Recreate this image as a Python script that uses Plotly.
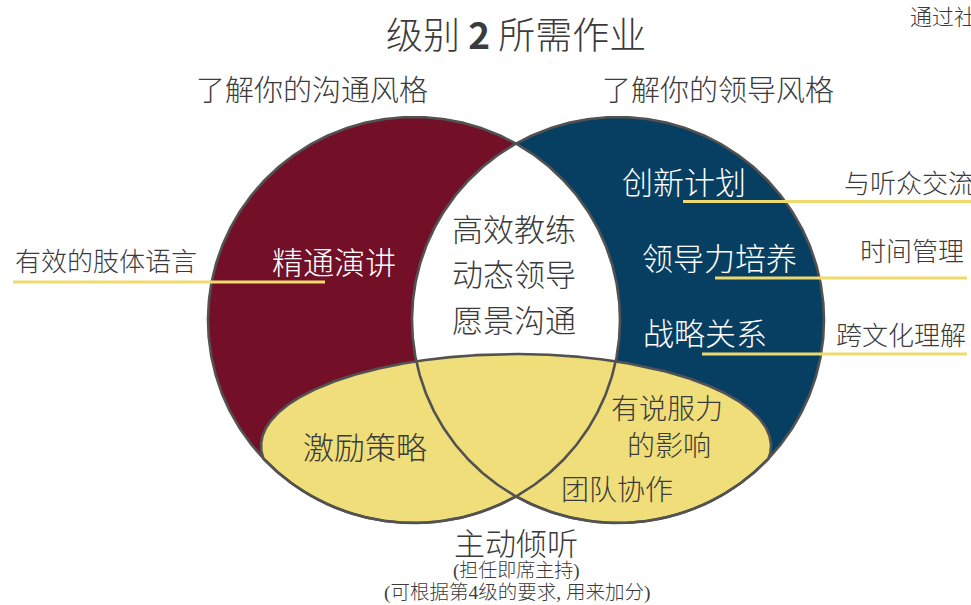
import numpy as np
import plotly.graph_objects as go

# ---------------- data (text content) ----------------
title_parts = ["级别", "2", "所需作业"]
corner_text = "通过社交媒体"
circle_titles = ["了解你的沟通风格", "了解你的领导风格"]
left_only = ["精通演讲"]
right_only = ["创新计划", "领导力培养", "战略关系"]
center_items = ["高效教练", "动态领导", "愿景沟通"]
bottom_left = ["激励策略"]
bottom_right = ["有说服力", "的影响", "团队协作"]
outside_left = ["有效的肢体语言"]
outside_right = ["与听众交流", "时间管理", "跨文化理解"]
bottom_title = "主动倾听"
bottom_notes = ["(担任即席主持)", "(可根据第4级的要求, 用来加分)"]

# ---------------- geometry / style ----------------
W, H = 971, 605
CL, CR, RX, RY = (414.0, 320.0), (618.0, 320.0), 206.0, 203.0
CE, ERX, ERY = (516.0, 446.0), 255.0, 92.0

MAROON = "#731027"
NAVY = "#073F62"
YELLOW = "#EFDE79"
LINE_Y = "#EFDA6E"
EDGE = "#525252"
TXT = "#3b3b3b"
FONT = "Noto Sans CJK SC"
DY = -2  # vertical text nudge


def ell(c, rx, ry, t):
    return c[0] + rx * np.cos(t), c[1] + ry * np.sin(t)


def ray_exit(p, d, c, rx, ry):
    dx, dy = d
    px, py = p[0] - c[0], p[1] - c[1]
    a = (dx / rx) ** 2 + (dy / ry) ** 2
    b = 2 * (px * dx / rx ** 2 + py * dy / ry ** 2)
    cc = (px / rx) ** 2 + (py / ry) ** 2 - 1
    return (-b + np.sqrt(b * b - 4 * a * cc)) / (2 * a)


t = np.linspace(0, 2 * np.pi, 721)
lx, ly = ell(CL, RX, RY, t)
rx_, ry_ = ell(CR, RX, RY, t)

# lens (intersection of the two circles)
t0 = np.arccos((CR[0] - CL[0]) / 2 / RX)
ta = np.linspace(-t0, t0, 200)
tb = np.linspace(np.pi - t0, np.pi + t0, 200)
a1x, a1y = ell(CL, RX, RY, ta)
a2x, a2y = ell(CR, RX, RY, tb)
lens_x = np.concatenate([a1x, a2x])
lens_y = np.concatenate([a1y, a2y])

# yellow region = ellipse ∩ (left ∪ right)
phi = np.linspace(0, 2 * np.pi, 2881)
d = (np.cos(phi), np.sin(phi))
sE = ray_exit(CE, d, CE, ERX, ERY)
sL = ray_exit(CE, d, CL, RX, RY)
sR = ray_exit(CE, d, CR, RX, RY)
s = np.minimum(sE, np.maximum(sL, sR))
yx = CE[0] + s * np.cos(phi)
yy = CE[1] + s * np.sin(phi)

fig = go.Figure()


def fill(x, y, color):
    fig.add_trace(go.Scatter(x=x, y=y, mode="lines", fill="toself", fillcolor=color,
                             line=dict(width=0, color=color), hoverinfo="skip"))


def outline(x, y):
    fig.add_trace(go.Scatter(x=x, y=y, mode="lines", line=dict(width=2.6, color=EDGE),
                             hoverinfo="skip"))


fill(lx, ly, MAROON)
fill(rx_, ry_, NAVY)
fill(lens_x, lens_y, "#ffffff")
fill(yx, yy, YELLOW)
outline(yx, yy)
outline(lx, ly)
outline(rx_, ry_)

# yellow pointer lines
pointer_lines = [((13, 282), (325, 282)), ((683, 201.5), (975, 201.5)),
                 ((715, 278), (967, 278)), ((702, 354), (967, 354))]
for (x0, y0), (x1, y1) in pointer_lines:
    fig.add_shape(type="line", x0=x0, y0=y0, x1=x1, y1=y1, xref="x", yref="y",
                  line=dict(color=LINE_Y, width=3))


def label(text, x, y, size, color=TXT, anchor="center", family=FONT):
    fig.add_annotation(text=text, x=x, y=y + DY, xref="x", yref="y", showarrow=False,
                       xanchor=anchor, yanchor="middle",
                       font=dict(family=family, size=size, color=color, weight=300))


label(f"{title_parts[0]} <b>{title_parts[1]}</b> {title_parts[2]}", 515.5, 35, 37)
label(corner_text, 908, 17, 22, anchor="left")
label(circle_titles[0], 312, 90, 29)
label(circle_titles[1], 718, 90, 29)

label(left_only[0], 333.5, 262, 31, color="#ffffff")
for txt, (x, y) in zip(right_only, [(684, 182), (719, 258.5), (704.5, 333.5)]):
    label(txt, x, y, 31, color="#ffffff")
for txt, (x, y) in zip(center_items, [(514, 229), (514, 274), (514, 320)]):
    label(txt, x, y, 31)
label(bottom_left[0], 365, 447, 31)
for txt, (x, y) in zip(bottom_right, [(667, 409), (669, 446), (617, 490)]):
    label(txt, x, y, 28)

label(outside_left[0], 106, 261.5, 26)
label(outside_right[0], 842, 183.5, 26, anchor="left")
label(outside_right[1], 911.5, 251, 26)
label(outside_right[2], 900.5, 335, 26)

label(bottom_title, 516, 543, 31)
label(bottom_notes[0], 516, 573, 19, family="Liberation Serif, " + FONT)
label(bottom_notes[1], 517, 595, 19.5, family="Liberation Serif, " + FONT)

fig.update_layout(
    width=W, height=H, margin=dict(l=0, r=0, t=0, b=0),
    paper_bgcolor="#ffffff", plot_bgcolor="#ffffff", showlegend=False,
    xaxis=dict(range=[0, W], visible=False, fixedrange=True),
    yaxis=dict(range=[H, 0], visible=False, fixedrange=True),
)

fig.write_html("out.html", config={"displayModeBar": False, "staticPlot": True},
               post_script="document.body.style.margin='0';document.body.style.overflow='hidden';")
